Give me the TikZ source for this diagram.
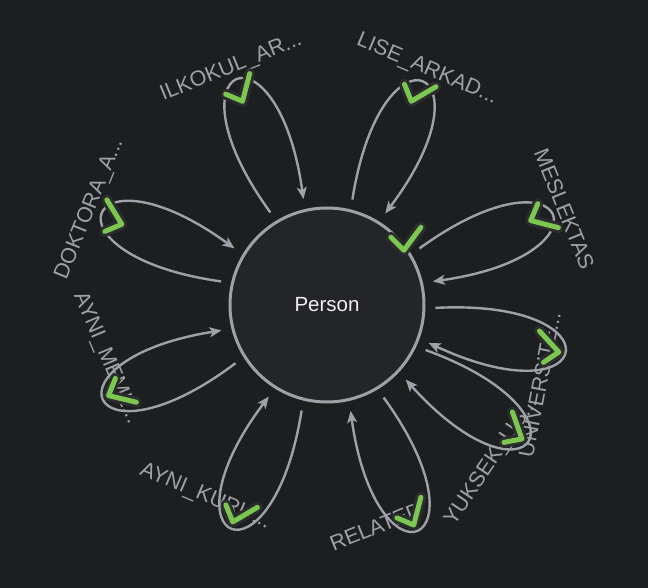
\documentclass[tikz,border=0pt]{standalone}
\usepackage{fontspec}
\setmainfont{Liberation Sans}
\usetikzlibrary{arrows.meta}
\definecolor{bgcolor}{RGB}{29,30,32}
\definecolor{nodefill}{RGB}{36,37,40}
\definecolor{edgecolor}{RGB}{158,162,168}
\definecolor{tickgreen}{RGB}{124,199,80}
\definecolor{tickshade}{RGB}{42,44,46}

\begin{document}
\begin{tikzpicture}[
    x=1pt, y=1pt,
    entity/.style={circle, draw=edgecolor, line width=3pt, fill=nodefill, minimum size=194pt, inner sep=0pt, text=white!94!black, font=\fontsize{20.5}{24}\selectfont},
    rellabel/.style={text=edgecolor, inner sep=0pt, font=\fontsize{21.5}{25}\selectfont},
    selfloop/.style={-{Stealth[length=12pt, width=10pt, inset=3pt]}, draw=edgecolor, line width=2.4pt, shorten <=10pt, shorten >=10pt},
    tickshadow/.style={draw=tickshade, line width=11pt, line cap=round, line join=round},
    tickmark/.style={draw=tickgreen, line width=5pt, line cap=round, line join=round},
    tick/.pic={
        \draw[tickshadow] (-15,1.5) -- (-2,-11.5) -- (15,11.5);
        \draw[tickmark] (-15,1.5) -- (-2,-11.5) -- (15,11.5);
    }
]

    % Canvas
    \useasboundingbox (-327,-283) rectangle (321,305);
    \fill[bgcolor] (-327,-283) rectangle (321,305);

    % Node
    \node[entity] (person) at (0,0) {Person};

    % Self relations
    \draw[selfloop] (person.121) .. controls +(126:196) and +(98:196) .. (person.103);
    \draw[selfloop] (person.76) .. controls +(81:196) and +(53:196) .. (person.58);
    \draw[selfloop] (person.31) .. controls +(36:196) and +(8:196) .. (person.13);
    \draw[selfloop] (person.358) .. controls +(3:196) and +(335:196) .. (person.340);
    \draw[selfloop] (person.335) .. controls +(340:196) and +(312:196) .. (person.317);
    \draw[selfloop] (person.301) .. controls +(306:196) and +(278:196) .. (person.283);
    \draw[selfloop] (person.256) .. controls +(261:196) and +(233:196) .. (person.238);
    \draw[selfloop] (person.212) .. controls +(217:196) and +(189:196) .. (person.194);
    \draw[selfloop] (person.167) .. controls +(172:196) and +(144:196) .. (person.149);

    % Relation labels
    \node[rellabel, rotate=22] (ilkokul) at (112:256) {ILKOKUL\_AR...};
    \node[rellabel, rotate=-23] (lise) at (67:256) {LISE\_ARKAD...};
    \node[rellabel, rotate=-68] (meslektas) at (22:256) {MESLEKTAS};
    \node[rellabel, rotate=79] (universite) at (339.5:227) {UNIVERSITE...};
    \node[rellabel, rotate=56] (yuksek) at (316.5:227) {YUKSEK\_LIS...};
    \node[rellabel, rotate=22] (related) at (282.5:227) {RELATED};
    \node[rellabel, rotate=-23] (aynikurum) at (237.5:227) {AYNI\_KURU...};
    \node[rellabel, rotate=-67] (aynimem) at (193.5:227) {AYNI\_MEML...};
    \node[rellabel, rotate=68] (doktora) at (158:256) {DOKTORA\_A...};

    % Check marks
    \pic[rotate=22] at (112:232) {tick};
    \pic[rotate=-23] at (67:232) {tick};
    \pic[rotate=-68] at (22:232) {tick};
    \pic[rotate=79] at (349:225) {tick};
    \pic[rotate=56] at (326:225) {tick};
    \pic[rotate=22] at (292:225) {tick};
    \pic[rotate=-23] at (247:225) {tick};
    \pic[rotate=-67] at (203:225) {tick};
    \pic[rotate=68] at (158:232) {tick};
    \pic at (40:103) {tick};

\end{tikzpicture}
\end{document}
